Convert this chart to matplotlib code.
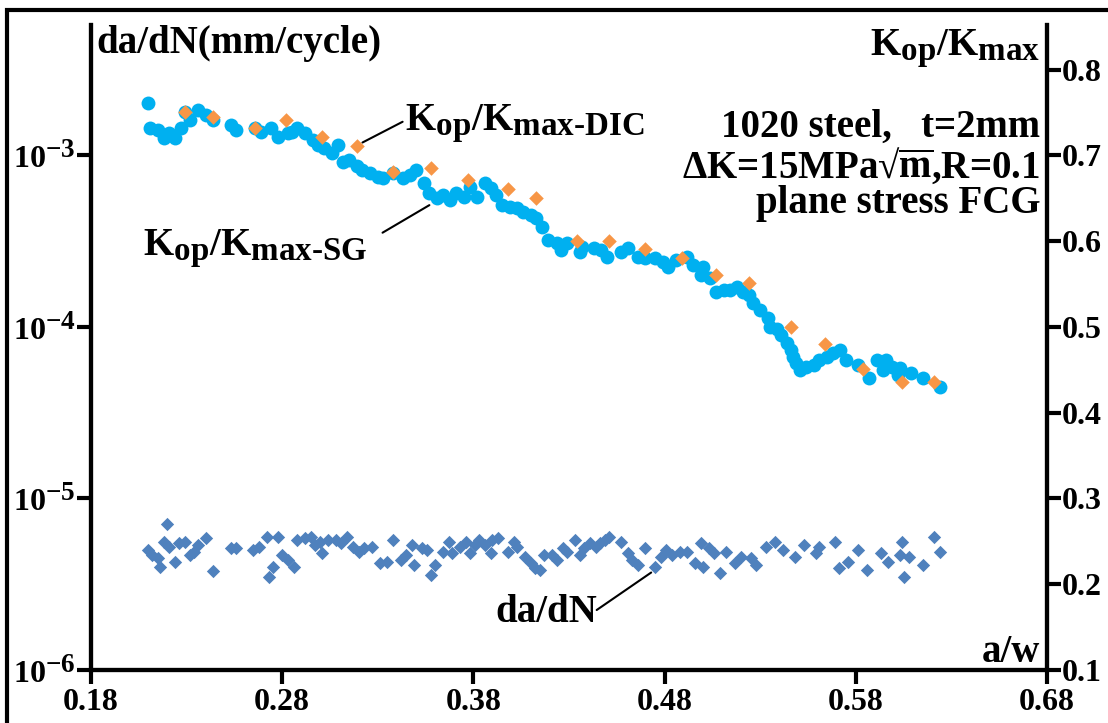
import matplotlib
matplotlib.use('agg')
import matplotlib.pyplot as plt
import matplotlib._mathtext as mathtext_impl
from matplotlib.patches import Rectangle
from matplotlib.ticker import FixedLocator, NullLocator, FuncFormatter

# Kop/Kmax from strain gauge (SG)
aw_sg = [0.210, 0.211, 0.215, 0.218, 0.221, 0.224, 0.227, 0.229, 0.232, 0.236,
         0.240, 0.244, 0.253, 0.256, 0.266, 0.269, 0.274, 0.278, 0.283, 0.285,
         0.288, 0.292, 0.296, 0.299, 0.302, 0.306, 0.309, 0.312, 0.315, 0.319,
         0.322, 0.326, 0.330, 0.333, 0.338, 0.343, 0.347, 0.350, 0.354, 0.357,
         0.361, 0.364, 0.368, 0.371, 0.375, 0.378, 0.382, 0.386, 0.389, 0.392,
         0.395, 0.399, 0.403, 0.406, 0.410, 0.413, 0.416, 0.419, 0.424, 0.426,
         0.429, 0.436, 0.437, 0.443, 0.447, 0.450, 0.457, 0.461, 0.466, 0.470,
         0.475, 0.479, 0.482, 0.486, 0.492, 0.495, 0.499, 0.500, 0.504, 0.507,
         0.511, 0.514, 0.518, 0.521, 0.524, 0.526, 0.530, 0.534, 0.535, 0.539,
         0.541, 0.544, 0.546, 0.547, 0.549, 0.551, 0.554, 0.558, 0.561, 0.565,
         0.568, 0.572, 0.575, 0.581, 0.587, 0.591, 0.594, 0.596, 0.599, 0.602,
         0.603, 0.609, 0.615, 0.624]
k_sg = [0.761, 0.732, 0.730, 0.720, 0.726, 0.720, 0.732, 0.751, 0.741, 0.753,
        0.747, 0.741, 0.736, 0.730, 0.732, 0.727, 0.732, 0.722, 0.726, 0.727,
        0.732, 0.726, 0.718, 0.712, 0.709, 0.703, 0.712, 0.692, 0.695, 0.688,
        0.683, 0.680, 0.675, 0.674, 0.680, 0.674, 0.677, 0.683, 0.668, 0.656,
        0.650, 0.654, 0.648, 0.656, 0.652, 0.663, 0.652, 0.668, 0.662, 0.654,
        0.642, 0.640, 0.639, 0.634, 0.631, 0.627, 0.617, 0.601, 0.598, 0.590,
        0.598, 0.587, 0.593, 0.592, 0.590, 0.582, 0.587, 0.592, 0.582, 0.580,
        0.580, 0.576, 0.570, 0.578, 0.582, 0.572, 0.561, 0.570, 0.557, 0.541,
        0.543, 0.543, 0.547, 0.541, 0.537, 0.528, 0.520, 0.510, 0.500, 0.497,
        0.491, 0.481, 0.473, 0.465, 0.458, 0.450, 0.453, 0.456, 0.462, 0.465,
        0.470, 0.473, 0.462, 0.456, 0.441, 0.462, 0.450, 0.462, 0.453, 0.444,
        0.452, 0.446, 0.441, 0.430]

# Kop/Kmax from DIC
aw_dic = [0.229, 0.244, 0.266, 0.282, 0.301, 0.319, 0.338, 0.358, 0.377, 0.398,
          0.413, 0.434, 0.451, 0.470, 0.489, 0.507, 0.524, 0.546, 0.564, 0.584,
          0.604, 0.621]
k_dic = [0.751, 0.745, 0.732, 0.741, 0.722, 0.711, 0.681, 0.685, 0.671, 0.661,
         0.650, 0.600, 0.600, 0.591, 0.580, 0.561, 0.551, 0.500, 0.480, 0.451,
         0.436, 0.436]

# crack growth rate da/dN (mm/cycle, x1e-6)
aw_dadn = [0.210, 0.212, 0.215, 0.216, 0.218, 0.220, 0.221, 0.224, 0.226, 0.229,
           0.232, 0.234, 0.236, 0.240, 0.244, 0.253, 0.256, 0.265, 0.268, 0.272,
           0.273, 0.275, 0.278, 0.280, 0.283, 0.286, 0.288, 0.292, 0.295, 0.297,
           0.300, 0.301, 0.304, 0.308, 0.311, 0.314, 0.317, 0.320, 0.323, 0.327,
           0.331, 0.335, 0.338, 0.342, 0.345, 0.348, 0.349, 0.353, 0.356, 0.358,
           0.360, 0.364, 0.367, 0.369, 0.373, 0.376, 0.378, 0.381, 0.383, 0.386,
           0.389, 0.390, 0.393, 0.398, 0.401, 0.403, 0.407, 0.410, 0.412, 0.415,
           0.417, 0.421, 0.424, 0.427, 0.429, 0.433, 0.436, 0.438, 0.441, 0.444,
           0.446, 0.449, 0.451, 0.457, 0.461, 0.463, 0.466, 0.470, 0.475, 0.478,
           0.481, 0.484, 0.488, 0.492, 0.496, 0.499, 0.500, 0.503, 0.506, 0.509,
           0.512, 0.517, 0.520, 0.525, 0.528, 0.533, 0.538, 0.542, 0.548, 0.553,
           0.559, 0.561, 0.569, 0.571, 0.576, 0.581, 0.586, 0.593, 0.597, 0.603,
           0.604, 0.605, 0.608, 0.615, 0.621, 0.624]
dadn_e6 = [5.01, 4.68, 4.50, 3.99, 5.58, 7.10, 5.21, 4.26, 5.50, 5.58,
           4.68, 4.88, 5.36, 5.89, 3.78, 5.14, 5.14, 5.01, 5.21, 5.96,
           3.49, 3.99, 5.96, 4.68, 4.38, 3.99, 5.73, 5.89, 5.96, 5.36,
           5.58, 4.81, 5.73, 5.73, 5.50, 5.96, 5.21, 4.88, 5.14, 5.21,
           4.21, 4.26, 5.73, 4.38, 4.68, 5.36, 4.10, 5.14, 5.01, 3.58,
           4.10, 4.88, 5.58, 4.81, 5.21, 5.58, 4.81, 5.36, 5.73, 5.36,
           4.81, 5.73, 5.89, 4.88, 5.58, 5.21, 4.56, 4.21, 3.93, 3.83,
           4.68, 4.68, 4.38, 5.14, 4.88, 5.73, 4.68, 5.14, 5.50, 5.21,
           5.50, 5.73, 5.96, 5.58, 4.81, 4.38, 4.10, 5.14, 3.99, 4.56,
           5.01, 4.68, 4.88, 4.88, 4.21, 5.50, 3.99, 5.14, 4.81, 3.68,
           4.88, 4.21, 4.56, 4.50, 4.10, 5.21, 5.58, 5.01, 4.56, 5.36,
           4.81, 5.21, 5.58, 3.93, 4.26, 5.01, 3.83, 4.81, 4.26, 4.68,
           5.58, 3.49, 4.56, 4.10, 5.96, 4.88]
dadn = [v * 1e-6 for v in dadn_e6]

x_ticks = [0.18, 0.28, 0.38, 0.48, 0.58, 0.68]
k_ticks = [0.1, 0.2, 0.3, 0.4, 0.5, 0.6, 0.7, 0.8]
dadn_ticks = [1e-6, 1e-5, 1e-4, 1e-3]

plt.rcParams['font.family'] = ['Liberation Serif', 'DejaVu Serif']
plt.rcParams['font.weight'] = 'bold'
plt.rcParams['mathtext.fontset'] = 'custom'
plt.rcParams['mathtext.rm'] = 'Liberation Serif:bold'
plt.rcParams['mathtext.bf'] = 'Liberation Serif:bold'
plt.rcParams['mathtext.it'] = 'Liberation Serif:bold'
plt.rcParams['mathtext.default'] = 'regular'
# subscripts in the original are only a little smaller than the main text
mathtext_impl.SHRINK_FACTOR = 0.85

fs = 28
tfs = 23
lw = 3.0

fig = plt.figure(figsize=(11.08, 7.23), dpi=100)
# outer frame of the picture
fig.add_artist(Rectangle((0.0063, -0.2), 1.5, 1.186, transform=fig.transFigure,
                         fill=False, lw=3, ec='black'))

ax = fig.add_axes([0.0821, 0.0733, 0.8628, 0.8921])
ax2 = ax.twinx()

ax.scatter(aw_dadn, dadn, marker='D', s=46, color='#4F81BD', lw=0, zorder=3)
ax2.scatter(aw_sg, k_sg, marker='o', s=100, color='#00B0F0', lw=0, zorder=3)
ax2.scatter(aw_dic, k_dic, marker='D', s=55, color='#F79646', lw=0, zorder=4)

ax.set_yscale('log')
ax.set_xlim(0.18, 0.68)
ax.set_ylim(1e-6, 5.75e-3)
ax2.set_ylim(0.1, 0.852)

ax.yaxis.set_major_locator(FixedLocator(dadn_ticks))
ax.yaxis.set_minor_locator(NullLocator())
ax.set_xticks(x_ticks)
ax.xaxis.set_major_formatter(FuncFormatter(lambda v, p: '%.2f' % v))
ax2.set_yticks(k_ticks)
ax2.yaxis.set_major_formatter(FuncFormatter(lambda v, p: '%.1f' % v))

for a in (ax, ax2):
    a.spines['top'].set_visible(False)
    for s in ('left', 'right', 'bottom'):
        a.spines[s].set_linewidth(lw)
    a.tick_params(which='major', direction='out', length=10, width=lw,
                  labelsize=tfs, pad=1)
ax.tick_params(axis='x', pad=3)
ax.patch.set_visible(False)

# axis titles
ax.text(0.006, 0.957, 'da/dN(mm/cycle)', transform=ax.transAxes, fontsize=fs,
        ha='left', va='baseline')
ax.text(0.993, 0.953, r'$K_{op}/K_{max}$', transform=ax.transAxes, fontsize=fs,
        ha='right', va='baseline')
ax.text(0.993, 0.012, 'a/w', transform=ax.transAxes, fontsize=fs,
        ha='right', va='baseline')

# test conditions
ax.text(0.993, 0.826, '1020 steel,   t=2mm', transform=ax.transAxes, fontsize=fs,
        ha='right', va='baseline')
ax.text(0.993, 0.763, r'$\Delta$K=15MPa√$\overline{m}$,R=0.1', transform=ax.transAxes,
        fontsize=fs, ha='right', va='baseline')
ax.text(0.993, 0.709, 'plane stress FCG', transform=ax.transAxes, fontsize=fs,
        ha='right', va='baseline')

# series labels with leader lines
ax.text(0.328, 0.837, r'$K_{op}/K_{max\text{-DIC}}$', transform=ax.transAxes,
        fontsize=fs, ha='left', va='baseline')
ax2.annotate('', xy=(0.322, 0.715), xytext=(0.326, 0.850),
             textcoords='axes fraction',
             arrowprops=dict(arrowstyle='-', lw=1.5, color='black',
                             shrinkA=0, shrinkB=0))
ax.text(0.054, 0.643, r'$K_{op}/K_{max\text{-SG}}$', transform=ax.transAxes,
        fontsize=fs, ha='left', va='baseline')
ax2.annotate('', xy=(0.357, 0.642), xytext=(0.305, 0.678),
             textcoords='axes fraction',
             arrowprops=dict(arrowstyle='-', lw=1.5, color='black',
                             shrinkA=0, shrinkB=0))
ax.text(0.423, 0.074, 'da/dN', transform=ax.transAxes, fontsize=fs,
        ha='left', va='baseline')
ax.annotate('', xy=(0.473, 3.7e-6), xytext=(0.529, 0.093),
            textcoords='axes fraction',
            arrowprops=dict(arrowstyle='-', lw=1.5, color='black',
                            shrinkA=0, shrinkB=0))

fig.savefig('out.png', dpi=100)
